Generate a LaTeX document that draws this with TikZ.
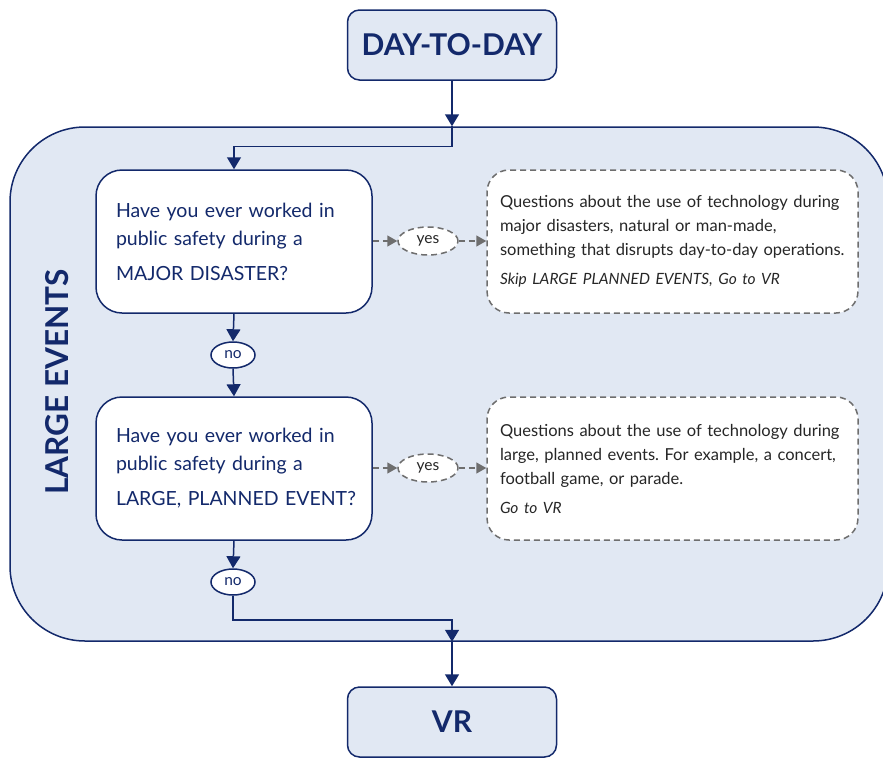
\documentclass[tikz,border=0pt]{standalone}
\usepackage{fontspec}
\setmainfont{Lato}
\frenchspacing
\usetikzlibrary{arrows.meta,shapes.geometric}
\definecolor{navy}{HTML}{13296B}
\definecolor{paleblue}{HTML}{E1E8F3}
\definecolor{dashgray}{HTML}{6E6E6E}
\definecolor{bodytext}{HTML}{262626}
\tikzstyle{stage}=[rectangle, draw=navy, fill=paleblue, line width=1.5pt, rounded corners=12pt, minimum width=209pt, minimum height=70pt, text=navy, font=\fontsize{30}{32}\selectfont\bfseries]
\tikzstyle{region}=[rectangle, draw=navy, fill=paleblue, line width=1.5pt, rounded corners=75pt, minimum width=878pt, minimum height=514pt]
\tikzstyle{question}=[rectangle, draw=navy, fill=white, line width=1.5pt, rounded corners=26pt, minimum width=276pt, minimum height=143pt, inner xsep=20pt, text width=236pt, align=left, text=navy, font=\fontsize{19.5}{28}\selectfont]
\tikzstyle{note}=[rectangle, draw=dashgray, fill=white, line width=1.5pt, dash pattern=on 6pt off 4pt, rounded corners=22pt, minimum width=371pt, minimum height=143pt, inner xsep=13pt, text width=345pt, align=left, text=bodytext, font=\fontsize{16.5}{24}\selectfont]
\tikzstyle{answer}=[ellipse, draw=navy, fill=white, line width=1.5pt, inner sep=0pt, minimum width=44pt, minimum height=26pt, text=navy, font=\fontsize{15.5}{16}\selectfont]
\tikzstyle{maybe}=[ellipse, draw=dashgray, fill=white, line width=1.5pt, dash pattern=on 6pt off 4pt, inner sep=0pt, minimum width=60pt, minimum height=28pt, text=bodytext, font=\fontsize{15.5}{16}\selectfont]
\tikzstyle{flow}=[draw=navy, line width=1.5pt, -{Triangle[width=14pt,length=12pt]}]
\tikzstyle{skip}=[draw=dashgray, line width=1.5pt, dash pattern=on 6pt off 4pt, -{Triangle[width=11pt,length=10pt]}]
\begin{document}
\begin{tikzpicture}[x=1pt, y=-1pt]
                    \clip (0,0) rectangle (883,758);
                    \node[region] (12) at (449,384) {};
                    \node[rotate=90, text=navy, font=\fontsize{31.5}{34}\selectfont\bfseries] (13) at (57,382) {LARGE EVENTS};
                    \node[stage] (11) at (452,45) {DAY-TO-DAY};
                    \node[stage] (22) at (452,722) {VR};
                    \node[question] (14) at (234,241.5) {Have you ever worked in\\public safety during a\\[7pt]MAJOR DISASTER?};
                    \node[answer] (15) at (233,355) {no};
                    \node[maybe] (16) at (428,241) {yes};
                    \node[note] (17) at (672.5,241.5) {Questions about the use of technology during\\major disasters, natural or man-made,\\something that disrupts day-to-day operations.\\[5pt]{\fontsize{15.5}{16}\selectfont\itshape Skip LARGE PLANNED EVENTS, Go to VR}};
                    \node[question] (18) at (234,468.5) {Have you ever worked in\\public safety during a\\[7pt]\mbox{LARGE, PLANNED EVENT?}};
                    \node[answer] (19) at (233,582) {no};
                    \node[maybe] (20) at (428,468) {yes};
                    \node[note] (21) at (672.5,468.5) {Questions about the use of technology during\\large, planned events. For example, a concert,\\football game, or parade.\\[5pt]{\fontsize{15.5}{16}\selectfont\itshape Go to VR}};
                    \draw[flow] (11.south) -- (11.south |- 12.north);
                    \draw[flow] (11.south |- 12.north) -- ++(0,20) -| (14.north);
                    \draw[flow] (14.south) -- (15.north);
                    \draw[flow] (15.south) -- (18.north);
                    \draw[flow] (18.south) -- (19.north);
                    \draw[flow] (19.south) -- ++(0,24) -| (22.north |- 12.south);
                    \draw[flow] (22.north |- 12.south) -- (22.north);
                    \draw[skip] (14.east |- 16.west) -- (16.west);
                    \draw[skip] (16.east) -- (17.west |- 16.east);
                    \draw[skip] (18.east |- 20.west) -- (20.west);
                    \draw[skip] (20.east) -- (21.west |- 20.east);
                \end{tikzpicture}
\end{document}
